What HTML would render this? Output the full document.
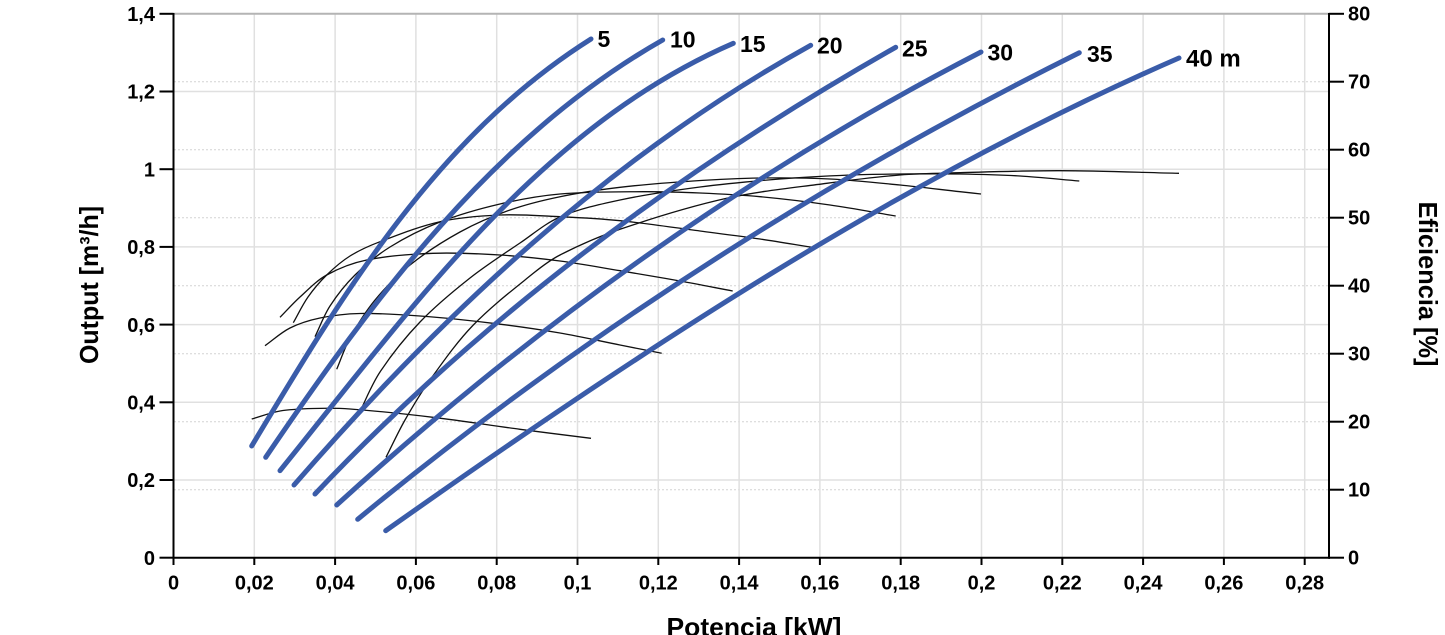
<!DOCTYPE html>
<html>
<head>
<meta charset="utf-8">
<style>
  html,body{margin:0;padding:0;background:#fff;}
  svg{display:block;}
  text{font-family:"Liberation Sans",Arial,sans-serif;font-weight:bold;fill:#000;}
  .g{stroke:#e0e0e0;stroke-width:1.5;fill:none;}
  .gd{stroke:#d4d4d4;stroke-width:1;stroke-dasharray:2,2;fill:none;}
  .ax{stroke:#000;stroke-width:2;fill:none;}
  .b{stroke:#3a5ca9;stroke-width:5;fill:none;stroke-linecap:round;stroke-linejoin:round;}
  .k{stroke:#111;stroke-width:1.3;fill:none;stroke-linejoin:round;}
</style>
</head>
<body>
<svg id="c" width="1445" height="635" viewBox="0 0 1445 635" xmlns="http://www.w3.org/2000/svg">
  <rect x="0" y="0" width="1445" height="635" fill="#fff"/>
  <!-- dotted right-axis grid -->
  <g class="gd">
    <line x1="174" y1="489.7" x2="1328" y2="489.7"/>
    <line x1="174" y1="421.7" x2="1328" y2="421.7"/>
    <line x1="174" y1="353.7" x2="1328" y2="353.7"/>
    <line x1="174" y1="285.7" x2="1328" y2="285.7"/>
    <line x1="174" y1="217.7" x2="1328" y2="217.7"/>
    <line x1="174" y1="149.7" x2="1328" y2="149.7"/>
    <line x1="174" y1="81.7" x2="1328" y2="81.7"/>
  </g>
  <!-- solid grid -->
  <g class="g">
    <line x1="174" y1="480" x2="1328" y2="480"/>
    <line x1="174" y1="402.3" x2="1328" y2="402.3"/>
    <line x1="174" y1="324.6" x2="1328" y2="324.6"/>
    <line x1="174" y1="246.9" x2="1328" y2="246.9"/>
    <line x1="174" y1="169.2" x2="1328" y2="169.2"/>
    <line x1="174" y1="91.5" x2="1328" y2="91.5"/>
    <line x1="254.3" y1="14" x2="254.3" y2="557"/>
    <line x1="335.1" y1="14" x2="335.1" y2="557"/>
    <line x1="415.9" y1="14" x2="415.9" y2="557"/>
    <line x1="496.7" y1="14" x2="496.7" y2="557"/>
    <line x1="577.5" y1="14" x2="577.5" y2="557"/>
    <line x1="658.3" y1="14" x2="658.3" y2="557"/>
    <line x1="739.1" y1="14" x2="739.1" y2="557"/>
    <line x1="819.9" y1="14" x2="819.9" y2="557"/>
    <line x1="900.7" y1="14" x2="900.7" y2="557"/>
    <line x1="981.5" y1="14" x2="981.5" y2="557"/>
    <line x1="1062.3" y1="14" x2="1062.3" y2="557"/>
    <line x1="1143.1" y1="14" x2="1143.1" y2="557"/>
    <line x1="1223.9" y1="14" x2="1223.9" y2="557"/>
    <line x1="1304.7" y1="14" x2="1304.7" y2="557"/>
  </g>
  <!-- top frame -->
  <line x1="173.5" y1="13.8" x2="1329" y2="13.8" stroke="#b4b4b4" stroke-width="2"/>

  <!-- efficiency curves (black) -->
  <g id="eff">
    <polyline class="k" points="251.7,419 280,411 313,408.5 350,409 433,417.3 520,429.3 591,438.3"/>
    <polyline class="k" points="265,345.7 290,328 320,318 360,313.5 420,316 493,323.3 560,333 620,345 661.7,353.3"/>
    <polyline class="k" points="280,317.3 300,297 326.7,275 366.7,260 433,253.3 500,255 560,261 620,270.7 680,281 732.7,291"/>
    <polyline class="k" points="293.3,322.7 308,297 326.7,275 350,256 380,241.7 440,221.7 500,215 560,216.7 620,220.7 700,231 760,239 811.7,247.3"/>
    <polyline class="k" points="315,336.7 330,306 355,275 390,247 440,222 500,204 560,194 643,191.7 700,193 760,196.7 830,205 895.7,216"/>
    <polyline class="k" points="336.7,369.3 350,338 375,300 410,265 460,232 510,210 560,196.7 620,187.3 693,181 760,178 830,179 900,185 960,191.7 981,194"/>
    <polyline class="k" points="358.3,415 380,372 420,322 470,278 520,243 560,217 620,200 700,187 780,179 850,175 900,174 960,174 1020,176 1079.3,181"/>
    <polyline class="k" points="386,457.3 405,420 430,380 473.3,325 533.3,273.3 560,255 620,229.3 726.7,198.3 826.7,183.3 900,175 960,172.7 1060,170.7 1179,173.3"/>
  </g>

  <!-- output curves (blue) -->
  <g id="out">
    <polyline class="b" points="251.7,446 278.5,403 296.7,373.3 330,318.3 370,256.7 415,200 466,144 520,91.7 553,63 591,39"/>
    <polyline class="b" points="265.7,457.3 300,405 380,300 463.3,200 520,146.7 586.7,88 662.7,40"/>
    <polyline class="b" points="280,470.7 330,405 400,322 520,195 586.7,130 660,80 733.3,43.3"/>
    <polyline class="b" points="294,485 345,430 400,368 520,253.3 570,212 605,183 653.3,146.7 736.7,89 810.7,45.3"/>
    <polyline class="b" points="315,494 380,430 450,362 520,303.3 553.3,278.3 596.7,243.3 630,216 697,170 760,130 830,88 895.7,47.3"/>
    <polyline class="b" points="336.7,505 376.7,470 450,405 520,350 620,275 700,218 780,170 860,118 900,93.3 940,71.7 981,52"/>
    <polyline class="b" points="357.7,519.3 420,470 520,395 593.3,340 680,280.7 750,236.7 795,210 860,170 900,146.7 983.3,105 1030,79 1079.3,52.7"/>
    <polyline class="b" points="385.7,530.7 470,470 520,438.3 650,350 740,293.3 810,249 900,199 943.3,175 1000,143 1063.3,110 1133.3,78.3 1179,58"/>
  </g>

  <!-- axes -->
  <line class="ax" x1="173.5" y1="13" x2="173.5" y2="558.7"/>
  <line class="ax" x1="172.5" y1="557.7" x2="1330" y2="557.7"/>
  <line class="ax" x1="1329" y1="13" x2="1329" y2="558.7"/>

  <!-- left ticks -->
  <g class="ax">
    <line x1="159.5" y1="557.7" x2="173.5" y2="557.7"/>
    <line x1="159.5" y1="480" x2="173.5" y2="480"/>
    <line x1="159.5" y1="402.3" x2="173.5" y2="402.3"/>
    <line x1="159.5" y1="324.6" x2="173.5" y2="324.6"/>
    <line x1="159.5" y1="246.9" x2="173.5" y2="246.9"/>
    <line x1="159.5" y1="169.2" x2="173.5" y2="169.2"/>
    <line x1="159.5" y1="91.5" x2="173.5" y2="91.5"/>
    <line x1="159.5" y1="13.8" x2="173.5" y2="13.8"/>
  </g>
  <!-- right ticks -->
  <g class="ax">
    <line x1="1329" y1="557.7" x2="1344" y2="557.7"/>
    <line x1="1329" y1="489.7" x2="1344" y2="489.7"/>
    <line x1="1329" y1="421.7" x2="1344" y2="421.7"/>
    <line x1="1329" y1="353.7" x2="1344" y2="353.7"/>
    <line x1="1329" y1="285.7" x2="1344" y2="285.7"/>
    <line x1="1329" y1="217.7" x2="1344" y2="217.7"/>
    <line x1="1329" y1="149.7" x2="1344" y2="149.7"/>
    <line x1="1329" y1="81.7" x2="1344" y2="81.7"/>
    <line x1="1329" y1="13.8" x2="1344" y2="13.8"/>
  </g>
  <!-- bottom ticks -->
  <g class="ax">
    <line x1="173.5" y1="557.7" x2="173.5" y2="565"/>
    <line x1="254.3" y1="557.7" x2="254.3" y2="565"/>
    <line x1="335.1" y1="557.7" x2="335.1" y2="565"/>
    <line x1="415.9" y1="557.7" x2="415.9" y2="565"/>
    <line x1="496.7" y1="557.7" x2="496.7" y2="565"/>
    <line x1="577.5" y1="557.7" x2="577.5" y2="565"/>
    <line x1="658.3" y1="557.7" x2="658.3" y2="565"/>
    <line x1="739.1" y1="557.7" x2="739.1" y2="565"/>
    <line x1="819.9" y1="557.7" x2="819.9" y2="565"/>
    <line x1="900.7" y1="557.7" x2="900.7" y2="565"/>
    <line x1="981.5" y1="557.7" x2="981.5" y2="565"/>
    <line x1="1062.3" y1="557.7" x2="1062.3" y2="565"/>
    <line x1="1143.1" y1="557.7" x2="1143.1" y2="565"/>
    <line x1="1223.9" y1="557.7" x2="1223.9" y2="565"/>
    <line x1="1304.7" y1="557.7" x2="1304.7" y2="565"/>
  </g>

  <!-- left tick labels -->
  <g font-size="20" text-anchor="end">
    <text x="155" y="564.9">0</text>
    <text x="155" y="487.2">0,2</text>
    <text x="155" y="409.5">0,4</text>
    <text x="155" y="331.8">0,6</text>
    <text x="155" y="254.1">0,8</text>
    <text x="155" y="176.4">1</text>
    <text x="155" y="98.7">1,2</text>
    <text x="155" y="21">1,4</text>
  </g>
  <!-- right tick labels -->
  <g font-size="20" text-anchor="start">
    <text x="1348" y="564.7">0</text>
    <text x="1348" y="496.7">10</text>
    <text x="1348" y="428.7">20</text>
    <text x="1348" y="360.7">30</text>
    <text x="1348" y="292.7">40</text>
    <text x="1348" y="224.7">50</text>
    <text x="1348" y="156.7">60</text>
    <text x="1348" y="88.7">70</text>
    <text x="1348" y="20.7">80</text>
  </g>
  <!-- bottom tick labels -->
  <g font-size="20" text-anchor="middle">
    <text x="173.5" y="589.5">0</text>
    <text x="254.3" y="589.5">0,02</text>
    <text x="335.1" y="589.5">0,04</text>
    <text x="415.9" y="589.5">0,06</text>
    <text x="496.7" y="589.5">0,08</text>
    <text x="577.5" y="589.5">0,1</text>
    <text x="658.3" y="589.5">0,12</text>
    <text x="739.1" y="589.5">0,14</text>
    <text x="819.9" y="589.5">0,16</text>
    <text x="900.7" y="589.5">0,18</text>
    <text x="981.5" y="589.5">0,2</text>
    <text x="1062.3" y="589.5">0,22</text>
    <text x="1143.1" y="589.5">0,24</text>
    <text x="1223.9" y="589.5">0,26</text>
    <text x="1304.7" y="589.5">0,28</text>
  </g>

  <!-- curve labels -->
  <g font-size="23">
    <text x="597.5" y="47">5</text>
    <text x="670" y="47.5">10</text>
    <text x="740" y="52">15</text>
    <text x="817" y="53.5">20</text>
    <text x="902" y="56.3">25</text>
    <text x="987.5" y="60.3">30</text>
    <text x="1087" y="62">35</text>
    <text x="1186" y="66.3" font-size="24">40 m</text>
  </g>

  <!-- axis titles -->
  <text font-size="26" text-anchor="middle" transform="translate(98,285) rotate(-90)" textLength="158" lengthAdjust="spacingAndGlyphs">Output [m³/h]</text>
  <text font-size="26" text-anchor="middle" x="754" y="636" textLength="175" lengthAdjust="spacingAndGlyphs">Potencia [kW]</text>
  <text font-size="26" text-anchor="middle" transform="translate(1419,284) rotate(90)" textLength="165" lengthAdjust="spacingAndGlyphs">Eficiencia [%]</text>
</svg>
<script>
(function(){
  var NS="http://www.w3.org/2000/svg";
  function parse(pl){
    return pl.getAttribute("points").trim().split(/\s+/).map(function(s){var q=s.split(",");return [parseFloat(q[0]),parseFloat(q[1])];});
  }
  function unit(a,b){var dx=b[0]-a[0],dy=b[1]-a[1],l=Math.sqrt(dx*dx+dy*dy)||1;return [dx/l,dy/l];}
  function spline(p){
    var m=p.length, dirs=[];
    for(var i=0;i<m;i++){
      var a=p[i>0?i-1:0], b=p[i<m-1?i+1:m-1];
      dirs.push(unit(a,b));
    }
    var d="M"+p[0][0]+","+p[0][1];
    for(var i=0;i<m-1;i++){
      var dx=p[i+1][0]-p[i][0], dy=p[i+1][1]-p[i][1];
      var L=Math.sqrt(dx*dx+dy*dy)/3;
      var c1=[p[i][0]+dirs[i][0]*L, p[i][1]+dirs[i][1]*L];
      var c2=[p[i+1][0]-dirs[i+1][0]*L, p[i+1][1]-dirs[i+1][1]*L];
      d+=" C"+c1[0].toFixed(2)+","+c1[1].toFixed(2)+" "+c2[0].toFixed(2)+","+c2[1].toFixed(2)+" "+p[i+1][0]+","+p[i+1][1];
    }
    return d;
  }
  function bez(P0,C1,C2,P3,t){
    var u=1-t;
    return [u*u*u*P0[0]+3*u*u*t*C1[0]+3*u*t*t*C2[0]+t*t*t*P3[0],
            u*u*u*P0[1]+3*u*u*t*C1[1]+3*u*t*t*C2[1]+t*t*t*P3[1]];
  }
  function fit(p){
    var n=p.length, P0=p[0], P3=p[n-1];
    var ts=[0], tot=0;
    for(var i=1;i<n;i++){tot+=Math.hypot(p[i][0]-p[i-1][0],p[i][1]-p[i-1][1]);ts.push(tot);}
    ts=ts.map(function(v){return v/tot;});
    var C1,C2;
    for(var it=0;it<6;it++){
      var c11=0,c12=0,c22=0,x1=[0,0],x2=[0,0];
      for(var i=0;i<n;i++){
        var t=ts[i],u=1-t;
        var a1=3*u*u*t, a2=3*u*t*t;
        var r=[p[i][0]-u*u*u*P0[0]-t*t*t*P3[0], p[i][1]-u*u*u*P0[1]-t*t*t*P3[1]];
        c11+=a1*a1;c12+=a1*a2;c22+=a2*a2;
        x1[0]+=a1*r[0];x1[1]+=a1*r[1];x2[0]+=a2*r[0];x2[1]+=a2*r[1];
      }
      var det=c11*c22-c12*c12;
      C1=[(x1[0]*c22-x2[0]*c12)/det,(x1[1]*c22-x2[1]*c12)/det];
      C2=[(c11*x2[0]-c12*x1[0])/det,(c11*x2[1]-c12*x1[1])/det];
      // reparameterize
      for(var i=1;i<n-1;i++){
        var best=ts[i],bd=1e18;
        for(var k=0;k<=400;k++){
          var t=k/400,q=bez(P0,C1,C2,P3,t);
          var dd=(q[0]-p[i][0])*(q[0]-p[i][0])+(q[1]-p[i][1])*(q[1]-p[i][1]);
          if(dd<bd){bd=dd;best=t;}
        }
        ts[i]=best;
      }
    }
    return "M"+P0[0]+","+P0[1]+" C"+C1[0].toFixed(2)+","+C1[1].toFixed(2)+" "+C2[0].toFixed(2)+","+C2[1].toFixed(2)+" "+P3[0]+","+P3[1];
  }
  function replace(sel,fn){
    var pls=document.querySelectorAll(sel);
    for(var n=0;n<pls.length;n++){
      var pl=pls[n];
      var path=document.createElementNS(NS,"path");
      path.setAttribute("d",fn(parse(pl)));
      path.setAttribute("class",pl.getAttribute("class"));
      pl.parentNode.replaceChild(path,pl);
    }
  }
  replace("#eff polyline",spline);
  replace("#out polyline",fit);
})();
</script>
</body>
</html>
